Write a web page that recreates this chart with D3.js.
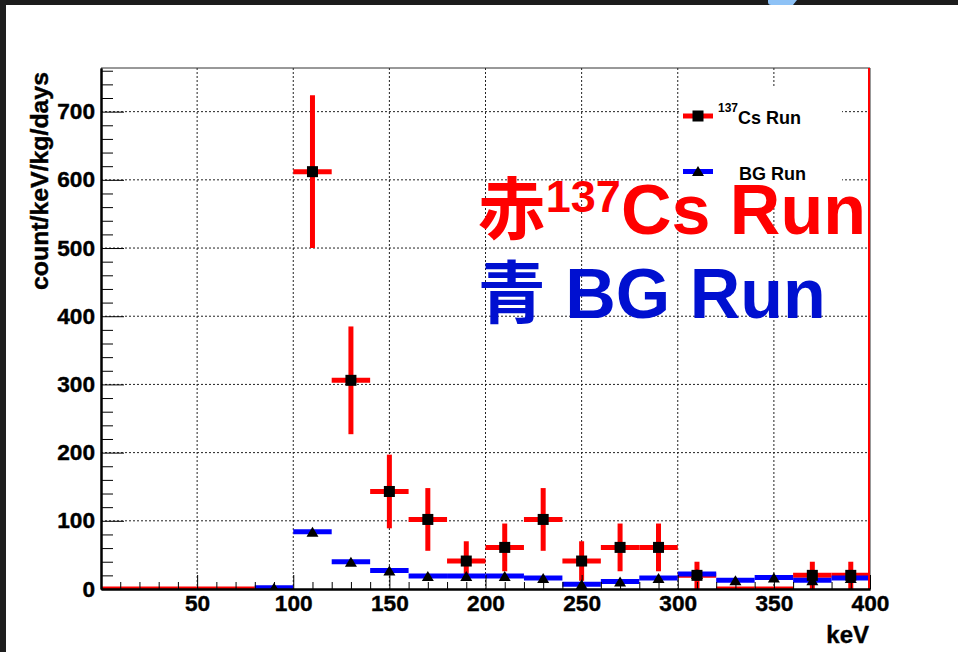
<!DOCTYPE html>
<html>
<head>
<meta charset="utf-8">
<script src="https://cdn.jsdelivr.net/npm/d3@7"></script>
<style>
  body { margin: 0; background: #fff; }
  svg { display: block; }
</style>
</head>
<body>
<div id="chart"></div>
<script>
// data (20 keV bins)
const binCenters = [10, 30, 50, 70, 90, 110, 130, 150, 170, 190, 210, 230, 250, 270, 290, 310, 330, 350, 370, 390];
const csValues = [0, 0, 0, 0, 0, 612, 306, 143, 102, 41, 61, 102, 41, 61, 61, 20, 0, 0, 20, 20];
const csErrors = [0, 0, 0, 0, 0, 112, 79, 54, 46, 29, 35, 46, 29, 35, 35, 20, 0, 0, 20, 20];
const bgValues = [0, 0, 0, 0, 2, 84, 40, 27, 19, 19, 19, 16, 7, 11, 16, 22, 13, 17, 13, 16];
const binWidth = 20;
const xMajorTicks = [50, 100, 150, 200, 250, 300, 350, 400];
const yMajorTicks = [0, 100, 200, 300, 400, 500, 600, 700];
const xMinorTicks = [10, 20, 30, 40, 60, 70, 80, 90, 110, 120, 130, 140, 160, 170, 180, 190, 210, 220, 230, 240, 260, 270, 280, 290, 310, 320, 330, 340, 360, 370, 380, 390];
const yMinorTicks = [20, 40, 60, 80, 120, 140, 160, 180, 220, 240, 260, 280, 320, 340, 360, 380, 420, 440, 460, 480, 520, 540, 560, 580, 620, 640, 660, 680, 720, 740, 760];

const width = 958, height = 652;
const margin = { left: 101, right: 88, top: 68, bottom: 63 };
const font = "'Liberation Sans', Arial, Helvetica, sans-serif";
const cjk = "'Noto Sans CJK SC', 'Noto Sans CJK JP', sans-serif";

const svg = d3.select("#chart").append("svg")
  .attr("width", width)
  .attr("height", height);

svg.append("rect").attr("width", width).attr("height", height).attr("fill", "#fff");

// dark window edge at top / left
svg.append("rect").attr("x", 0).attr("y", 0).attr("width", width).attr("height", 5).attr("fill", "#1c1c1c");
svg.append("rect").attr("x", 0).attr("y", 0).attr("width", 6).attr("height", height).attr("fill", "#1e1e1e");
svg.append("path").attr("d", "M768,0L797,0L793,5L771,5Q768,5 768,2Z").attr("fill", "#8ec2f6");

const innerWidth = width - margin.left - margin.right;
const innerHeight = height - margin.top - margin.bottom;
const g = svg.append("g").attr("transform", `translate(${margin.left},${margin.top})`);

const x = d3.scaleLinear().domain([0, 400]).range([0, innerWidth]);
const y = d3.scaleLinear().domain([0, 764]).range([innerHeight, 0]);

svg.append("defs").append("clipPath").attr("id", "plot")
  .append("rect").attr("width", innerWidth).attr("height", innerHeight);

// grid
g.append("g").selectAll("line")
  .data(xMajorTicks.filter(d => d < 400))
  .join("line")
  .attr("x1", d => x(d)).attr("x2", d => x(d))
  .attr("y1", 0).attr("y2", innerHeight)
  .attr("stroke", "#222").attr("stroke-width", 1).attr("stroke-dasharray", "2,2");
g.append("g").selectAll("line")
  .data(yMajorTicks.filter(d => d > 0))
  .join("line")
  .attr("x1", 0).attr("x2", innerWidth)
  .attr("y1", d => y(d)).attr("y2", d => y(d))
  .attr("stroke", "#222").attr("stroke-width", 1).attr("stroke-dasharray", "2,2");

// frame top / right
g.append("path")
  .attr("d", `M0,0H${innerWidth}V${innerHeight}`)
  .attr("fill", "none").attr("stroke", "#333").attr("stroke-width", 1);

// legend background (hides grid)
g.append("rect")
  .attr("x", 579).attr("y", 20).attr("width", 162).attr("height", 108)
  .attr("fill", "#fff");

const bins = binCenters.map((c, i) => ({ c, cs: csValues[i], err: csErrors[i], bg: bgValues[i] }));
const plot = g.append("g").attr("clip-path", "url(#plot)");

// Cs error bars (red)
plot.append("g").selectAll("line")
  .data(bins)
  .join("line")
  .attr("x1", d => x(d.c - binWidth / 2)).attr("x2", d => x(d.c + binWidth / 2))
  .attr("y1", d => y(d.cs)).attr("y2", d => y(d.cs))
  .attr("stroke", "#ff0000").attr("stroke-width", 5);
plot.append("g").selectAll("line")
  .data(bins.filter(d => d.err > 0))
  .join("line")
  .attr("x1", d => x(d.c)).attr("x2", d => x(d.c))
  .attr("y1", d => y(d.cs + d.err)).attr("y2", d => y(d.cs - d.err))
  .attr("stroke", "#ff0000").attr("stroke-width", 5);

// BG bars (blue)
plot.append("g").selectAll("line")
  .data(bins.filter(d => d.bg > 0))
  .join("line")
  .attr("x1", d => x(d.c - binWidth / 2)).attr("x2", d => x(d.c + binWidth / 2))
  .attr("y1", d => y(d.bg)).attr("y2", d => y(d.bg))
  .attr("stroke", "#0000ff").attr("stroke-width", 5);

// markers
plot.append("g").selectAll("rect")
  .data(bins.filter(d => d.cs > 0))
  .join("rect")
  .attr("x", d => x(d.c) - 5.5).attr("y", d => y(d.cs) - 5.5)
  .attr("width", 11).attr("height", 11)
  .attr("fill", "#000");
plot.append("g").selectAll("path")
  .data(bins.filter(d => d.c >= 90))
  .join("path")
  .attr("transform", d => `translate(${x(d.c)},${y(d.bg)})`)
  .attr("d", "M0,-5L6,5L-6,5Z")
  .attr("fill", "#000");

// red edge line at 400
g.append("line")
  .attr("x1", x(400) - 1).attr("x2", x(400) - 1)
  .attr("y1", y(0)).attr("y2", 0)
  .attr("stroke", "#ff0000").attr("stroke-width", 2);

// axes
const xAxis = g.append("g").attr("transform", `translate(0,${innerHeight})`);
xAxis.append("g").call(d3.axisBottom(x).tickValues(xMinorTicks).tickSizeInner(-7).tickSizeOuter(0).tickFormat(""));
xAxis.append("g").attr("class", "major")
  .call(d3.axisBottom(x).tickValues(xMajorTicks).tickSizeInner(-14).tickSizeOuter(0).tickPadding(6));
xAxis.selectAll(".domain").attr("stroke", "#000").attr("stroke-width", 2);

const yAxis = g.append("g");
yAxis.append("g").call(d3.axisLeft(y).tickValues(yMinorTicks).tickSizeInner(-12).tickSizeOuter(0).tickFormat(""));
yAxis.append("g").attr("class", "major")
  .call(d3.axisLeft(y).tickValues(yMajorTicks).tickSizeInner(-23).tickSizeOuter(0).tickPadding(6));
yAxis.selectAll(".domain").attr("stroke", "#000").attr("stroke-width", 2);

g.selectAll(".tick line").attr("stroke", "#000");
g.selectAll(".major .tick text")
  .attr("font-family", font).attr("font-weight", "bold").attr("font-size", 22).attr("fill", "#000")
  .attr("stroke", "#000").attr("stroke-width", 0.4)
  .attr("textLength", d => String(d).length * 12.6)
  .attr("lengthAdjust", "spacingAndGlyphs");

// axis titles
g.append("text")
  .attr("x", innerWidth - 1).attr("y", innerHeight + 54)
  .attr("text-anchor", "end")
  .attr("font-family", font).attr("font-weight", "bold").attr("font-size", 24)
  .attr("stroke", "#000").attr("stroke-width", 0.4)
  .text("keV");
g.append("text")
  .attr("transform", `translate(-53,4) rotate(-90)`)
  .attr("text-anchor", "end")
  .attr("font-family", font).attr("font-weight", "bold").attr("font-size", 23)
  .attr("stroke", "#000").attr("stroke-width", 0.4)
  .attr("textLength", 218).attr("lengthAdjust", "spacingAndGlyphs")
  .text("count/keV/kg/days");

// legend
const legend = g.append("g").attr("transform", "translate(582,48)");
legend.append("line").attr("x1", 0).attr("x2", 30).attr("y1", 0).attr("y2", 0)
  .attr("stroke", "#ff0000").attr("stroke-width", 5);
legend.append("rect").attr("x", 9.5).attr("y", -5.5).attr("width", 11).attr("height", 11).attr("fill", "#000");
const l1 = legend.append("text").attr("x", 35).attr("y", 8)
  .attr("font-family", font).attr("font-weight", "bold").attr("font-size", 18);
l1.append("tspan").attr("font-size", 12).attr("dy", -12).text("137");
l1.append("tspan").attr("dy", 12).text("Cs Run");

legend.append("line").attr("x1", 0).attr("x2", 30).attr("y1", 55.5).attr("y2", 55.5)
  .attr("stroke", "#0000ff").attr("stroke-width", 5);
legend.append("path").attr("transform", "translate(15,55)").attr("d", "M0,-5L6,5L-6,5Z").attr("fill", "#000");
legend.append("text").attr("x", 56).attr("y", 64)
  .attr("font-family", font).attr("font-weight", "bold").attr("font-size", 18)
  .text("BG Run");

// big annotations
const red = g.append("text")
  .attr("x", x(196)).attr("y", y(520))
  .attr("font-family", font).attr("font-weight", "bold").attr("font-size", 70)
  .attr("fill", "#ff0000");
red.append("tspan").attr("font-family", cjk).attr("font-size", 68).text("赤");
red.append("tspan").attr("font-size", 45).attr("dy", -22).text("137");
red.append("tspan").attr("dy", 22).text("Cs Run");

const blue = g.append("text")
  .attr("x", x(196)).attr("y", y(397))
  .attr("font-family", font).attr("font-weight", "bold").attr("font-size", 70)
  .attr("fill", "#0010d0");
blue.append("tspan").attr("font-family", cjk).attr("font-size", 68).text("青");
blue.append("tspan").text(" BG Run");
</script>
</body>
</html>
